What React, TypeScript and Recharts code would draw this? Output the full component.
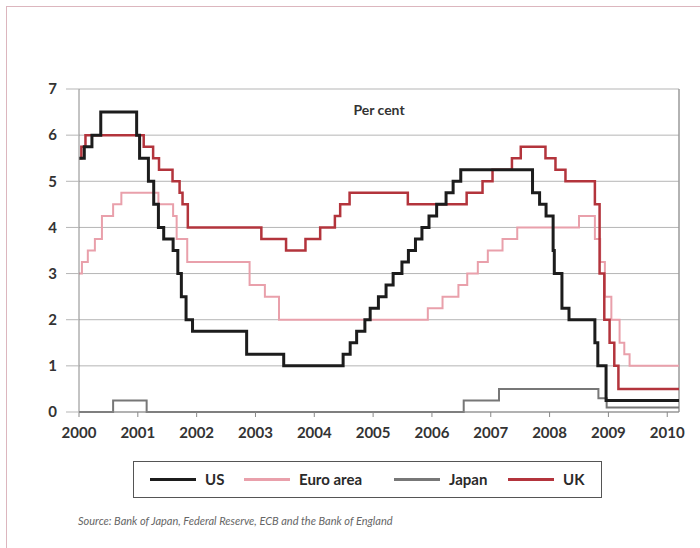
import { LineChart, Line, XAxis, YAxis, CartesianGrid, ReferenceLine, Legend } from 'recharts';

// policy rates, per cent; dates as decimal years where the rate changes
const usDates = [2000.0, 2000.09, 2000.22, 2000.37, 2000.98, 2001.03, 2001.18, 2001.27, 2001.35, 2001.44, 2001.6, 2001.68, 2001.74, 2001.82, 2001.93, 2002.85, 2003.48, 2004.49, 2004.61, 2004.72, 2004.86, 2004.95, 2005.09, 2005.22, 2005.34, 2005.49, 2005.6, 2005.72, 2005.83, 2005.95, 2006.08, 2006.24, 2006.36, 2006.49, 2007.71, 2007.83, 2007.94, 2008.06, 2008.08, 2008.21, 2008.33, 2008.77, 2008.82, 2008.96, 2010.2];
const usRates = [5.5, 5.75, 6.0, 6.5, 6.0, 5.5, 5.0, 4.5, 4.0, 3.75, 3.5, 3.0, 2.5, 2.0, 1.75, 1.25, 1.0, 1.25, 1.5, 1.75, 2.0, 2.25, 2.5, 2.75, 3.0, 3.25, 3.5, 3.75, 4.0, 4.25, 4.5, 4.75, 5.0, 5.25, 4.75, 4.5, 4.25, 3.5, 3.0, 2.25, 2.0, 1.5, 1.0, 0.25, 0.25];

const euroDates = [2000.0, 2000.05, 2000.15, 2000.27, 2000.39, 2000.58, 2000.72, 2001.35, 2001.6, 2001.66, 2001.84, 2002.9, 2003.16, 2003.4, 2005.93, 2006.18, 2006.45, 2006.6, 2006.78, 2006.95, 2007.2, 2007.45, 2008.5, 2008.77, 2008.86, 2008.94, 2009.05, 2009.19, 2009.27, 2009.36, 2010.2];
const euroRates = [3.0, 3.25, 3.5, 3.75, 4.25, 4.5, 4.75, 4.5, 4.25, 3.75, 3.25, 2.75, 2.5, 2.0, 2.25, 2.5, 2.75, 3.0, 3.25, 3.5, 3.75, 4.0, 4.25, 3.75, 3.25, 2.5, 2.0, 1.5, 1.25, 1.0, 1.0];

const japanDates = [2000.0, 2000.58, 2001.15, 2006.54, 2007.14, 2008.83, 2008.97, 2010.2];
const japanRates = [0, 0.25, 0, 0.25, 0.5, 0.3, 0.1, 0.1];

const ukDates = [2000.0, 2000.04, 2000.11, 2001.1, 2001.26, 2001.36, 2001.59, 2001.71, 2001.76, 2001.85, 2003.1, 2003.52, 2003.85, 2004.1, 2004.35, 2004.44, 2004.6, 2005.59, 2006.59, 2006.86, 2007.03, 2007.36, 2007.51, 2007.93, 2008.1, 2008.27, 2008.77, 2008.85, 2008.93, 2009.02, 2009.1, 2009.17, 2010.2];
const ukRates = [5.5, 5.75, 6.0, 5.75, 5.5, 5.25, 5.0, 4.75, 4.5, 4.0, 3.75, 3.5, 3.75, 4.0, 4.25, 4.5, 4.75, 4.5, 4.75, 5.0, 5.25, 5.5, 5.75, 5.5, 5.25, 5.0, 4.5, 3.0, 2.0, 1.5, 1.0, 0.5, 0.5];

const yearTicks = [2000, 2001, 2002, 2003, 2004, 2005, 2006, 2007, 2008, 2009, 2010];
const rateTicks = [0, 1, 2, 3, 4, 5, 6, 7];

const toPoints = (dates: number[], rates: number[]) =>
  dates.map((d, i) => ({ year: d, rate: rates[i] }));

// drawing order: US last so it sits on top
const series = [
  { name: 'Japan', data: toPoints(japanDates, japanRates), color: '#777777', width: 2 },
  { name: 'Euro area', data: toPoints(euroDates, euroRates), color: '#e9a0ab', width: 2 },
  { name: 'UK', data: toPoints(ukDates, ukRates), color: '#b3343c', width: 2.5 },
  { name: 'US', data: toPoints(usDates, usRates), color: '#1c1c1c', width: 3 },
];
const legendOrder = ['US', 'Euro area', 'Japan', 'UK'];
const legendOffsets = [16, 110, 260, 374];

const font = 'Lato, "Open Sans", sans-serif';

function LegendBox() {
  return (
    <div
      style={{
        position: 'relative',
        boxSizing: 'border-box',
        width: 469,
        height: 37,
        border: '1.5px solid #555',
        fontFamily: font,
        fontWeight: 700,
        fontSize: 15,
        color: '#2a2a2a',
      }}
    >
      {legendOrder.map((name, i) => {
        const s = series.find((x) => x.name === name)!;
        return (
          <div
            key={name}
            style={{
              position: 'absolute',
              left: legendOffsets[i],
              top: 0,
              height: 34,
              display: 'flex',
              alignItems: 'center',
              whiteSpace: 'nowrap',
            }}
          >
            <div style={{ width: 46, height: 3, background: s.color, marginRight: 9 }} />
            <span>{name}</span>
          </div>
        );
      })}
    </div>
  );
}

export default function App() {
  return (
    <div style={{ position: 'absolute', left: 0, top: 0, width: 700, height: 548, background: '#fff' }}>
      <div style={{ position: 'absolute', left: 6, top: 6, width: 694, height: 542, borderLeft: '1.5px solid #dcb6be', borderTop: '1.5px solid #dcb6be' }} />
      <LineChart width={700} height={548} margin={{ top: 89, right: 21, left: 39, bottom: 106 }}>
        <CartesianGrid horizontal vertical={false} stroke="#b5b5b5" />
        <XAxis
          dataKey="year"
          type="number"
          domain={[2000, 2010.2]}
          allowDataOverflow
          ticks={yearTicks}
          height={30}
          tickSize={5}
          tickMargin={10}
          stroke="#888"
          tick={{ fill: '#333', fontFamily: font, fontWeight: 700, fontSize: 15 }}
        />
        <YAxis
          type="number"
          domain={[0, 7]}
          ticks={rateTicks}
          width={40}
          tickSize={13}
          tickMargin={9}
          stroke="#888"
          tickLine={{ stroke: '#b5b5b5' }}
          tick={{ fill: '#333', fontFamily: font, fontWeight: 700, fontSize: 15 }}
        />
        <ReferenceLine x={2010.2} stroke="#9a9a9a" strokeWidth={1.5} />
        {series.map((s) => (
          <Line
            key={s.name}
            data={s.data}
            dataKey="rate"
            name={s.name}
            type="stepAfter"
            stroke={s.color}
            strokeWidth={s.width}
            dot={false}
            activeDot={false}
            isAnimationActive={false}
          />
        ))}
        <Legend
          layout="horizontal"
          align="center"
          verticalAlign="middle"
          wrapperStyle={{ left: 133, top: 461, width: 469, height: 37 }}
          content={() => <LegendBox />}
        />
      </LineChart>
      <div
        style={{
          position: 'absolute',
          left: 0,
          width: 758,
          top: 101,
          textAlign: 'center',
          fontFamily: font,
          fontWeight: 700,
          fontSize: 14,
          color: '#333',
        }}
      >
        Per cent
      </div>
      <div
        style={{
          position: 'absolute',
          left: 78,
          top: 514,
          fontFamily: font,
          fontStyle: 'italic',
          fontSize: 11,
          color: '#666',
          whiteSpace: 'nowrap',
        }}
      >
        Source: Bank of Japan, Federal Reserve, ECB and the Bank of England
      </div>
    </div>
  );
}
